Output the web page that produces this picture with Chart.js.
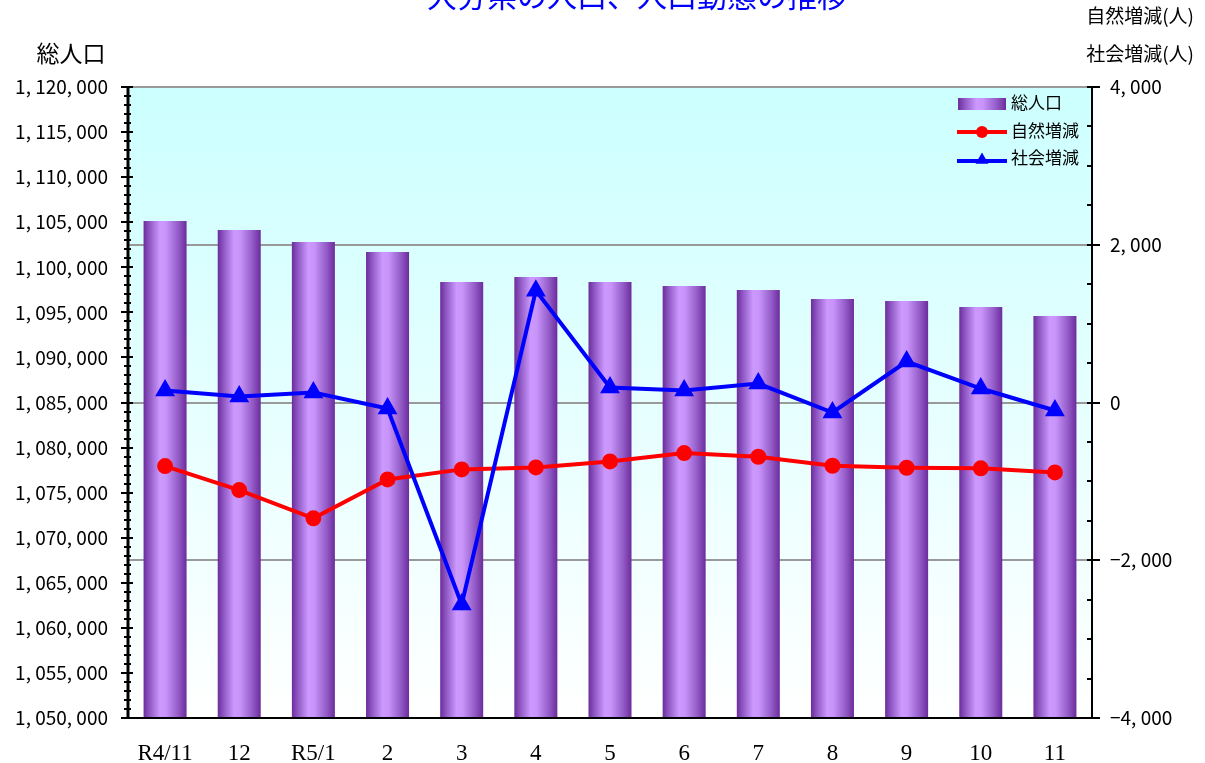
<!DOCTYPE html>
<html>
<head>
<meta charset="utf-8">
<script src="https://cdn.jsdelivr.net/npm/chart.js@4.4.1/dist/chart.umd.min.js"></script>
<style>
  html, body { margin: 0; padding: 0; background: #fff; }
  #wrap { width: 1205px; height: 763px; position: relative; }
</style>
</head>
<body>
<div id="wrap"><canvas id="popChart" width="1205" height="763"></canvas></div>
<script>
const labels = ['R4/11', '12', 'R5/1', '2', '3', '4', '5', '6', '7', '8', '9', '10', '11'];
const population = [1105135, 1104136, 1102805, 1101696, 1098368, 1098922, 1098368, 1097924, 1097480, 1096482, 1096260, 1095594, 1094596];
const naturalChange = [-806, -1110, -1468, -975, -848, -823, -747, -641, -688, -802, -827, -835, -886];
const socialChange = [152, 76, 127, -76, -2560, 1418, 190, 152, 240, -127, 519, 177, -101];

const JP = '"Noto Sans CJK JP", "Noto Sans", sans-serif';
const BAR_PCT = 0.58;

function fmt(v) {
    const s = Math.abs(Math.round(v)).toLocaleString('en-US').replace(/,/g, ', ');
    return (v < 0 ? '\u2212' : '') + s;
}

function barGradient(ctx, x0, x1) {
    const g = ctx.createLinearGradient(x0, 0, x1, 0);
    g.addColorStop(0, '#6c2c9c');
    g.addColorStop(0.12, '#8a52be');
    g.addColorStop(0.38, '#cc99ff');
    g.addColorStop(0.52, '#c894fa');
    g.addColorStop(0.82, '#9058c4');
    g.addColorStop(1, '#6c2c9c');
    return g;
}

function triangle(ctx, x, y, r) {
    ctx.beginPath();
    for (let i = 0; i < 3; i++) {
        const a = i * 2 * Math.PI / 3;
        ctx.lineTo(x + Math.sin(a) * r, y - Math.cos(a) * r);
    }
    ctx.closePath();
    ctx.fill();
}

const deco = {
    id: 'deco',
    beforeDraw(chart) {
        const { ctx, chartArea: a } = chart;
        const g = ctx.createLinearGradient(0, a.top, 0, a.bottom);
        g.addColorStop(0, '#ccffff');
        g.addColorStop(1, '#ffffff');
        ctx.save();
        ctx.fillStyle = g;
        ctx.fillRect(a.left, a.top, a.right - a.left, a.bottom - a.top);
        ctx.restore();
    },
    afterDraw(chart) {
        const { ctx, chartArea: a } = chart;
        const y = chart.scales.y, y2 = chart.scales.y2;
        ctx.save();
        ctx.strokeStyle = '#000';
        // axis lines
        ctx.lineWidth = 3;
        ctx.beginPath(); ctx.moveTo(a.left, a.top); ctx.lineTo(a.left, a.bottom + 1); ctx.stroke();
        ctx.lineWidth = 2;
        ctx.beginPath(); ctx.moveTo(a.right, a.top); ctx.lineTo(a.right, a.bottom + 1); ctx.stroke();
        ctx.beginPath(); ctx.moveTo(a.left, a.bottom); ctx.lineTo(a.right + 1, a.bottom); ctx.stroke();
        // tick marks
        y.ticks.forEach(t => {
            const py = Math.round(y.getPixelForValue(t.value));
            const major = t.value % 5000 === 0;
            ctx.beginPath();
            ctx.moveTo(a.left - (major ? 7 : 4), py);
            ctx.lineTo(a.left + (major ? 5 : 3), py);
            ctx.stroke();
        });
        y2.ticks.forEach(t => {
            const py = Math.round(y2.getPixelForValue(t.value));
            const major = t.value % 2000 === 0;
            ctx.beginPath();
            ctx.moveTo(a.right - 5, py);
            ctx.lineTo(a.right + (major ? 8 : 0), py);
            ctx.stroke();
        });
        // title (clipped at top edge)
        ctx.fillStyle = '#0000ff';
        ctx.font = '30px ' + JP;
        ctx.textAlign = 'center';
        ctx.textBaseline = 'alphabetic';
        ctx.fillText('大分県の人口、人口動態の推移', 637, 7);
        // axis titles
        ctx.fillStyle = '#000';
        ctx.font = '23px ' + JP;
        ctx.textBaseline = 'middle';
        ctx.fillText('総人口', 71, 53);
        ctx.font = '19px ' + JP;
        ctx.textAlign = 'right';
        ctx.fillText('自然増減(人)', 1194, 16);
        ctx.fillText('社会増減(人)', 1194, 54);
        // legend
        ctx.textAlign = 'left';
        ctx.font = '17px ' + JP;
        ctx.fillStyle = barGradient(ctx, 958, 1006);
        ctx.fillRect(958, 98, 48, 12);
        ctx.fillStyle = '#000';
        ctx.fillText(chart.data.datasets[2].label, 1011, 103);
        ctx.lineWidth = 4;
        ctx.strokeStyle = '#ff0000';
        ctx.beginPath(); ctx.moveTo(957, 132); ctx.lineTo(1007, 132); ctx.stroke();
        ctx.fillStyle = '#ff0000';
        ctx.beginPath(); ctx.arc(982, 132, 6, 0, Math.PI * 2); ctx.fill();
        ctx.fillStyle = '#000';
        ctx.fillText(chart.data.datasets[1].label, 1011, 131);
        ctx.strokeStyle = '#0000ff';
        ctx.beginPath(); ctx.moveTo(957, 161); ctx.lineTo(1007, 161); ctx.stroke();
        ctx.fillStyle = '#0000ff';
        triangle(ctx, 982, 160, 7.5);
        ctx.fillStyle = '#000';
        ctx.fillText(chart.data.datasets[0].label, 1011, 158);
        ctx.restore();
    }
};

const ctx = document.getElementById('popChart').getContext('2d');
new Chart(ctx, {
    type: 'bar',
    data: {
        labels: labels,
        datasets: [
            {
                type: 'line', label: '社会増減', data: socialChange, yAxisID: 'y2', order: 1,
                borderColor: '#0000ff', backgroundColor: '#0000ff', borderWidth: 4,
                pointStyle: 'triangle', pointRadius: 7.5, tension: 0
            },
            {
                type: 'line', label: '自然増減', data: naturalChange, yAxisID: 'y2', order: 2,
                borderColor: '#ff0000', backgroundColor: '#ff0000', borderWidth: 4,
                pointStyle: 'circle', pointRadius: 6, tension: 0
            },
            {
                type: 'bar', label: '総人口', data: population, yAxisID: 'y', order: 3,
                categoryPercentage: 1, barPercentage: BAR_PCT, borderWidth: 0,
                backgroundColor: c => {
                    const ch = c.chart;
                    if (!ch.chartArea || c.dataIndex === undefined) return '#a070d8';
                    const cx = ch.scales.x.getPixelForValue(c.dataIndex);
                    const half = (ch.chartArea.right - ch.chartArea.left) / labels.length * BAR_PCT / 2;
                    return barGradient(ch.ctx, cx - half, cx + half);
                }
            }
        ]
    },
    options: {
        responsive: false,
        animation: false,
        events: [],
        layout: { padding: { top: 87, left: 0, right: 0, bottom: 0 } },
        plugins: { legend: { display: false }, title: { display: false }, tooltip: { enabled: false } },
        scales: {
            x: {
                grid: { display: false },
                border: { display: false },
                ticks: { color: '#000', padding: 14, maxRotation: 0, font: { family: '"Liberation Serif", serif', size: 23 } },
                afterFit: s => { s.height = 45; }
            },
            y: {
                position: 'left', min: 1050000, max: 1120000,
                grid: { drawOnChartArea: false, drawTicks: false },
                border: { display: false },
                ticks: {
                    stepSize: 1000, autoSkip: false, color: '#000', padding: 20,
                    font: { family: JP, size: 19 },
                    callback: v => (v % 5000 === 0 ? fmt(v) : '')
                },
                afterFit: s => { s.width = 128; }
            },
            y2: {
                position: 'right', min: -4000, max: 4000,
                grid: {
                    drawTicks: false, lineWidth: 2,
                    color: c => (c.tick && c.tick.value % 2000 === 0 ? '#999999' : 'rgba(0,0,0,0)')
                },
                border: { display: false },
                ticks: {
                    stepSize: 500, autoSkip: false, color: '#000', padding: 18,
                    font: { family: JP, size: 19 },
                    callback: v => (v % 2000 === 0 ? fmt(v) : '')
                },
                afterFit: s => { s.width = 113; }
            }
        }
    },
    plugins: [deco]
});
</script>
</body>
</html>
